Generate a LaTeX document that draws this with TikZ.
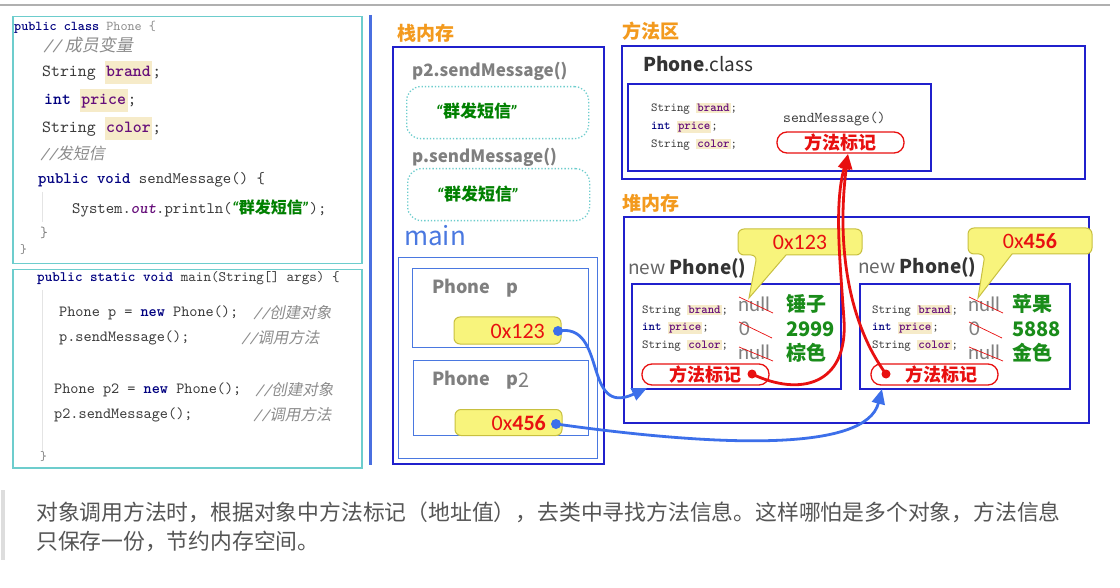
\documentclass[tikz,border=0pt]{standalone}
\usepackage{fontspec}
\setmonofont{lmmono10-regular}[Extension=.otf, BoldFont=lmmonolt10-bold, ItalicFont=lmmono10-italic, BoldItalicFont=lmmonolt10-boldoblique]
\newfontfamily\cjk{Noto Sans CJK SC}
\newfontfamily\cjkit{Noto Sans CJK SC}[FakeSlant=0.2]
\newfontfamily\calib{Carlito}
\usetikzlibrary{arrows.meta}
\definecolor{cbord}{HTML}{6DCDCD}
\definecolor{kwblue}{HTML}{000080}
\definecolor{fldp}{HTML}{660E7A}
\definecolor{hl}{HTML}{F6EBC9}
\definecolor{cmtg}{HTML}{8C8C8C}
\definecolor{codetxt}{HTML}{3A3A3A}
\definecolor{strgreen}{HTML}{008000}
\definecolor{dblue}{HTML}{2020CC}
\definecolor{lblue}{HTML}{4A78E0}
\definecolor{orange1}{HTML}{F39A1E}
\definecolor{red1}{HTML}{E81010}
\definecolor{yfill}{HTML}{F8F47C}
\definecolor{ydraw}{HTML}{C8C040}
\definecolor{valgreen}{HTML}{1A8C1A}
\definecolor{lblgray}{HTML}{7F7F7F}
\definecolor{topgray}{HTML}{B0B0B0}
\definecolor{qbar}{HTML}{DDDDDD}
\definecolor{paratxt}{HTML}{555555}
\definecolor{barblue}{HTML}{4A6FE0}
\definecolor{arrblue}{HTML}{3C6FEA}
\definecolor{guidec}{HTML}{E4E4E4}
\newcommand\kwd[1]{{\bfseries\color{kwblue}#1}}
\newcommand\fld[1]{{\setlength{\fboxsep}{1.5pt}\colorbox{hl}{\bfseries\color{fldp}\strut #1}}}
\newcommand\sfld[1]{{\setlength{\fboxsep}{1pt}\colorbox{hl}{\bfseries\color{fldp}#1}}}
\newcommand\cmt[1]{{\color{cmtg}{\itshape//}\cjkit #1}}
\tikzset{
  codeln/.style={anchor=west, inner sep=0pt, text=codetxt},
  ttl/.style={anchor=west, inner sep=0pt, text=orange1, font=\cjk\bfseries\fontsize{19}{19}\selectfont},
  lbl/.style={anchor=west, inner sep=0pt, text=lblgray, font=\cjk\bfseries\fontsize{17}{17}\selectfont},
  vname/.style={anchor=west, inner sep=0pt, text=lblgray, font=\cjk\bfseries\fontsize{18}{18}\selectfont},
  strg/.style={inner sep=0pt, text=strgreen, font=\cjk\bfseries\fontsize{17}{17}\selectfont},
  dotbox/.style={draw=cbord, dotted, line width=1.3pt, rounded corners=14pt, anchor=north west, inner sep=0pt},
  dbox/.style={draw=dblue, line width=1.8pt, anchor=north west, inner sep=0pt},
  lbox/.style={draw=lblue, line width=1.4pt, anchor=north west, inner sep=0pt},
  ybox/.style={draw=ydraw, fill=yfill, line width=1pt, rounded corners=6pt, inner sep=0pt},
  ycall/.style={draw=ydraw, fill=yfill, line width=1pt},
  hexv/.style={inner sep=0pt, text=red1, font=\calib\fontsize{22}{22}\selectfont},
  scode/.style={anchor=west, inner sep=0pt, text=codetxt, font=\ttfamily\fontsize{12.3}{14}\selectfont},
  rbox/.style={draw=red1, fill=white, line width=1.3pt, rounded corners=10pt, inner sep=0pt, minimum width=127pt, minimum height=21pt, text=red1, font=\cjk\bfseries\fontsize{18}{18}\selectfont},
  np/.style={anchor=west, inner sep=0pt, text=black!80, font=\cjk\fontsize{19}{19}\selectfont},
  nul/.style={anchor=west, inner sep=0pt, text=black!50, font=\calib\fontsize{21}{21}\selectfont},
  val/.style={anchor=west, inner sep=0pt, text=valgreen, font=\cjk\bfseries\fontsize{20}{20}\selectfont},
  strike/.style={draw=red1, line width=0.7pt},
  bdot/.style={circle, fill=arrblue, inner sep=0pt, minimum size=10pt},
  rdot/.style={circle, fill=red1, inner sep=0pt, minimum size=9pt},
  barrow/.style={draw=arrblue, line width=2.8pt, -{Triangle[length=15pt,width=13pt]}},
  rarrow/.style={draw=red1, line width=2.8pt, -{Triangle[length=15pt,width=12pt]}},
  para/.style={anchor=west, inner sep=0pt, text=paratxt, font=\cjk\fontsize{21.8}{22}\selectfont},
  guide/.style={draw=guidec, line width=1pt}
}
\begin{document}
\begin{tikzpicture}[x=1pt,y=-1pt]
\useasboundingbox (0,0) rectangle (1120,588);
\fill[white] (0,0) rectangle (1120,588);
% top rule
\draw[line width=1.5pt, topgray] (0,5) -- (1110,5);

% ---------- code panels ----------
\node[draw=cbord, line width=1.5pt, minimum width=349pt, minimum height=247pt, anchor=north west, inner sep=0pt] (cp1) at (12,16) {};
\node[draw=cbord, line width=1.5pt, minimum width=349pt, minimum height=198pt, anchor=north west, inner sep=0pt] (cp2) at (12,269) {};
\draw[guide] (42,192) -- (42,222);
\draw[guide] (42,290) -- (42,452);

\node[codeln, font=\ttfamily\fontsize{13.5}{14}\selectfont] (c1) at (14,27) {\kwd{public class} {\color{black!45}Phone \{}};
\node[codeln, font=\ttfamily\fontsize{17}{17}\selectfont] (c2) at (43,45) {\cmt{\ 成员变量}};
\node[codeln, font=\ttfamily\fontsize{17}{20}\selectfont] (c3) at (42,73) {String \fld{brand};};
\node[codeln, font=\ttfamily\fontsize{17}{20}\selectfont] (c4) at (44,101) {\kwd{int} \fld{price};};
\node[codeln, font=\ttfamily\fontsize{17}{20}\selectfont] (c5) at (42,129) {String \fld{color};};
\node[codeln, font=\ttfamily\fontsize{16}{16}\selectfont] (c6) at (40,153) {\cmt{发短信}};
\node[codeln, font=\ttfamily\fontsize{16}{16}\selectfont] (c7) at (38,180) {\kwd{public void} sendMessage() \{};
\node[codeln, font=\ttfamily\fontsize{16}{16}\selectfont] (c8) at (72,208) {System.{\color{fldp}\bfseries\itshape out}.println({\color{strgreen}\calib\bfseries\itshape “}{\cjk\bfseries\color{strgreen}群发短信}{\color{strgreen}\calib\bfseries\itshape ”});};
\node[codeln, font=\ttfamily\fontsize{15}{15}\selectfont] (c9) at (40,233) {\color{black!50}\}};
\node[codeln, font=\ttfamily\fontsize{13}{13}\selectfont] (c10) at (20,250) {\color{black!50}\}};

\node[codeln, font=\ttfamily\fontsize{14.4}{15}\selectfont] (m1) at (37,278) {\kwd{public static void} main(String[] args) \{};
\node[codeln, font=\ttfamily\fontsize{15.5}{16}\selectfont] (m2) at (59,313) {Phone p = \kwd{new} Phone();};
\node[codeln, font=\ttfamily\fontsize{15.5}{16}\selectfont] (m2c) at (253,313) {\cmt{创建对象}};
\node[codeln, font=\ttfamily\fontsize{15.5}{16}\selectfont] (m3) at (59,338) {p.sendMessage();};
\node[codeln, font=\ttfamily\fontsize{15.5}{16}\selectfont] (m3c) at (241,338) {\cmt{调用方法}};
\node[codeln, font=\ttfamily\fontsize{15.5}{16}\selectfont] (m4) at (54,390) {Phone p2 = \kwd{new} Phone();};
\node[codeln, font=\ttfamily\fontsize{15.5}{16}\selectfont] (m4c) at (255,390) {\cmt{创建对象}};
\node[codeln, font=\ttfamily\fontsize{15.5}{16}\selectfont] (m5) at (54,415) {p2.sendMessage();};
\node[codeln, font=\ttfamily\fontsize{15.5}{16}\selectfont] (m5c) at (253,415) {\cmt{调用方法}};
\node[codeln, font=\ttfamily\fontsize{13}{13}\selectfont] (m6) at (40,457) {\color{black!50}\}};

% separator bar
\draw[line width=3pt, barblue] (370,15) -- (370,465);

% ---------- stack ----------
\node[ttl] (stt) at (397,33) {栈内存};
\node[dbox, minimum width=211pt, minimum height=417pt] (stack) at (392,46) {};
\node[lbl] (sm2) at (412,71) {p2.sendMessage()};
\node[dotbox, minimum width=182pt, minimum height=52pt] (fr2) at (406,86) {};
\node[strg] (s2) at (477,111) {{\calib\itshape “}群发短信{\calib\itshape ”}};
\node[lbl] (sm1) at (412,157) {p.sendMessage()};
\node[dotbox, minimum width=182pt, minimum height=52pt] (fr1) at (407,168) {};
\node[strg] (s1) at (478,194) {{\calib\itshape “}群发短信{\calib\itshape ”}};
\node[anchor=west, inner sep=0pt, text=lblue, font=\cjk\fontsize{26}{26}\selectfont] (mn) at (404,236) {main};
\node[lbox, minimum width=199pt, minimum height=201pt] (mainb) at (398,257) {};
\node[lbox, minimum width=176pt, minimum height=79pt] (pb) at (412,268) {};
\node[vname] (pn) at (432,288) {Phone\hspace{16pt}p};
\node[lbox, minimum width=175pt, minimum height=75pt] (p2b) at (413,360) {};
\node[vname] (p2n) at (432,380) {Phone\hspace{16pt}p\raisebox{-2pt}{\mdseries\fontsize{20}{20}\selectfont 2}};
\node[ybox, minimum width=107pt, minimum height=27pt] (y1) at (507.5,330.5) {};
\node[hexv, anchor=east] (h1) at (545,331) {0x123};
\node[ybox, minimum width=107pt, minimum height=26pt] (y2) at (508.5,422.5) {};
\node[hexv, anchor=east] (h2) at (546,423) {0x\textbf{456}};
\node[bdot] (d1) at (558,331) {};
\node[bdot] (d2) at (556,424) {};

% ---------- method area ----------
\node[ttl] (mat) at (622,31) {方法区};
\node[dbox, minimum width=463pt, minimum height=133pt] (marea) at (621,45) {};
\node[anchor=west, inner sep=0pt, text=black!80, font=\cjk\fontsize{19}{19}\selectfont] (cls) at (643,64) {\textbf{Phone}.class};
\node[dbox, minimum width=303pt, minimum height=87pt] (mcls) at (627,83) {};
\node[scode] (mc1) at (651,109) {String \sfld{brand};};
\node[scode] (mc2) at (651,127) {\kwd{int} \sfld{price};};
\node[scode] (mc3) at (651,145) {String \sfld{color};};
\node[anchor=west, inner sep=0pt, text=black!75, font=\ttfamily\fontsize{15}{15}\selectfont] (smsg) at (783,119) {sendMessage()};
\node[rbox] (mk0) at (840.5,142.5) {方法标记};

% ---------- heap ----------
\node[ttl] (hpt) at (622,203) {堆内存};
\node[dbox, minimum width=465pt, minimum height=206pt] (heap) at (623,216) {};
\node[np] (np1) at (628,268) {{\color{black!60}new} \textbf{Phone()}};
\node[np] (np2) at (858,267) {{\color{black!60}new} \textbf{Phone()}};
\node[dbox, minimum width=209pt, minimum height=105pt] (o1) at (631,283) {};
\node[dbox, minimum width=210pt, minimum height=105pt] (o2) at (859,283) {};

% object 1
\node[scode] (a1) at (642,311) {String \sfld{brand};};
\node[scode] (a2) at (642,328) {\kwd{int} \sfld{price};};
\node[scode] (a3) at (642,346) {String \sfld{color};};
\node[nul] (n11) at (738,304) {null};
\node[nul] (n12) at (739,329) {0};
\node[nul] (n13) at (738,352) {null};
\draw[strike] (739,297) -- (773,313);
\draw[strike] (739,322) -- (772,338);
\draw[strike] (739,347) -- (773,361);
\node[val] (v11) at (786,304) {锤子};
\node[val] (v12) at (786,329) {2999};
\node[val] (v13) at (786,353) {棕色};
\node[rbox] (mk1) at (705.5,374.5) {方法标记\hspace{14pt}};
\node[rdot] (r1) at (752,374) {};

% object 2
\node[scode] (b1) at (872,311) {String \sfld{brand};};
\node[scode] (b2) at (872,328) {\kwd{int} \sfld{price};};
\node[scode] (b3) at (872,346) {String \sfld{color};};
\node[nul] (n21) at (968,304) {null};
\node[nul] (n22) at (969,329) {0};
\node[nul] (n23) at (968,352) {null};
\draw[strike] (969,297) -- (1003,313);
\draw[strike] (969,322) -- (1002,338);
\draw[strike] (969,347) -- (1003,361);
\node[val] (v21) at (1012,304) {苹果};
\node[val] (v22) at (1012,329) {5888};
\node[val] (v23) at (1012,353) {金色};
\node[rbox] (mk2) at (934.5,374.5) {\hspace{14pt}方法标记};
\node[rdot] (r2) at (886,374) {};

% callouts
\draw[ycall] (749,298) -- (786,255) [rounded corners=6pt] -- (862,255) -- (862,229) -- (738,229) -- (738,255) -- (757,255) [sharp corners] -- cycle;
\node[hexv] (cx1) at (800,242) {0x123};
\draw[ycall] (978,298) -- (1012,254) [rounded corners=6pt] -- (1092,254) -- (1092,228) -- (968,228) -- (968,254) -- (985,254) [sharp corners] -- cycle;
\node[hexv] (cx2) at (1030,241) {0x\textbf{456}};

% ---------- connectors ----------
\coordinate (t1) at (647,388);
\coordinate (t2) at (882,389);
\coordinate (t3) at (848,154);
\draw[barrow] (d1.center) .. controls (608,322) and (582,418) .. (t1);
\draw[barrow] (d2.center) .. controls (720,447) and (866,452) .. (t2);
\draw[rarrow] (r1.center) .. controls (800,397) and (848,385) .. (844,320) .. controls (840,260) and (834,205) .. (t3);
\draw[rarrow] (r2.center) .. controls (850,325) and (836,250) .. (t3);

% ---------- bottom text ----------
\draw[line width=4pt, qbar] (3,490) -- (3,560);
\node[para] (t1p) at (36,512) {对象调用方法时，根据对象中方法标记（地址值），去类中寻找方法信息。这样哪怕是多个对象，方法信息};
\node[para] (t2p) at (36,541) {只保存一份，节约内存空间。};
\end{tikzpicture}
\end{document}
